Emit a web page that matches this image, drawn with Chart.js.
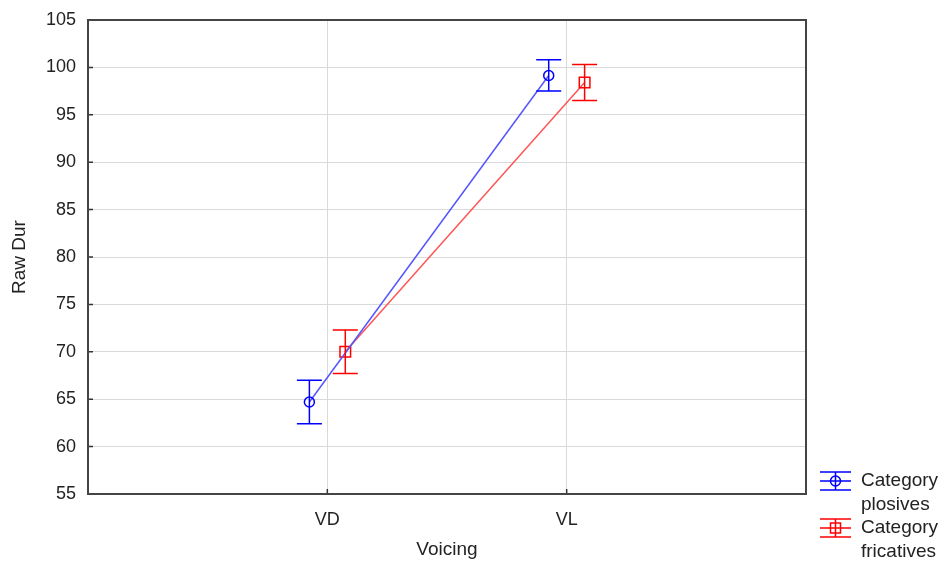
<!DOCTYPE html>
<html>
<head>
<meta charset="utf-8">
<script src="https://cdn.jsdelivr.net/npm/chart.js@4"></script>
<style>
  html, body { margin: 0; padding: 0; background: #fff; }
  #wrap { width: 947px; height: 563px; position: relative; }
</style>
</head>
<body>
<div id="wrap"><canvas id="c"></canvas></div>
<script>
/* RawDur by Voicing, plosives vs fricatives, with error bars */

const categories     = ['VD', 'VL'];
const catPos         = [1, 2];
const plosivesMean   = [64.7, 99.15];
const plosivesErr    = [2.3, 1.65];
const fricativesMean = [70.0, 98.4];
const fricativesErr  = [2.3, 1.9];
const yTicks         = [55, 60, 65, 70, 75, 80, 85, 90, 95, 100, 105];
const offset         = 0.075;

const BLUE = '#0000ff';
const RED  = '#ff0000';
const FONT = '"Liberation Sans", Arial, sans-serif';

function pts(means, shift) {
  return means.map((m, i) => ({ x: catPos[i] + shift, y: m }));
}

// error bars + inward tick marks + legend
const extras = {
  id: 'extras',
  afterDatasetsDraw(chart) {
    const ctx = chart.ctx;
    const xs = chart.scales.x, ys = chart.scales.y;
    chart.data.datasets.forEach(ds => {
      ctx.save();
      ctx.strokeStyle = ds.barColor;
      ctx.lineWidth = 1.5;
      ds.data.forEach((p, i) => {
        const px = xs.getPixelForValue(p.x);
        const top = ys.getPixelForValue(p.y + ds.errors[i]);
        const bot = ys.getPixelForValue(p.y - ds.errors[i]);
        ctx.beginPath();
        ctx.moveTo(px, top); ctx.lineTo(px, bot);
        ctx.moveTo(px - 12.5, top); ctx.lineTo(px + 12.5, top);
        ctx.moveTo(px - 12.5, bot); ctx.lineTo(px + 12.5, bot);
        ctx.stroke();
      });
      ctx.restore();
    });

    const a = chart.chartArea;
    ctx.save();
    ctx.strokeStyle = '#333';
    ctx.lineWidth = 1.5;
    ctx.beginPath();
    yTicks.forEach(v => {
      const y = ys.getPixelForValue(v);
      ctx.moveTo(a.left, y); ctx.lineTo(a.left + 5, y);
    });
    catPos.forEach(v => {
      const x = xs.getPixelForValue(v);
      ctx.moveTo(x, a.bottom); ctx.lineTo(x, a.bottom - 5);
    });
    ctx.stroke();
    ctx.strokeStyle = '#444';
    ctx.lineWidth = 2;
    ctx.strokeRect(a.left, a.top, a.right - a.left, a.bottom - a.top);
    ctx.restore();

    // legend
    const items = [
      { y: 481, color: BLUE, marker: 'circle', l1: 'Category', l2: 'plosives' },
      { y: 528, color: RED,  marker: 'square', l1: 'Category', l2: 'fricatives' }
    ];
    ctx.save();
    items.forEach(it => {
      ctx.strokeStyle = it.color;
      ctx.lineWidth = 1.5;
      ctx.beginPath();
      ctx.moveTo(820, it.y - 9); ctx.lineTo(851, it.y - 9);
      ctx.moveTo(820, it.y);     ctx.lineTo(851, it.y);
      ctx.moveTo(820, it.y + 9); ctx.lineTo(851, it.y + 9);
      ctx.moveTo(835.5, it.y - 9); ctx.lineTo(835.5, it.y + 9);
      ctx.stroke();
      ctx.beginPath();
      if (it.marker === 'circle') ctx.arc(835.5, it.y, 5, 0, Math.PI * 2);
      else ctx.rect(830.5, it.y - 5, 10, 10);
      ctx.stroke();
      ctx.fillStyle = '#222';
      ctx.font = '19px ' + FONT;
      ctx.textBaseline = 'middle';
      ctx.fillText(it.l1, 861, it.y);
      ctx.fillText(it.l2, 861, it.y + 23.5);
    });
    ctx.restore();
  }
};

new Chart(document.getElementById('c'), {
  type: 'line',
  data: {
    datasets: [
      {
        label: 'Category plosives',
        data: pts(plosivesMean, -offset),
        errors: plosivesErr,
        barColor: BLUE,
        borderColor: '#5555ff',
        borderWidth: 1.5,
        pointStyle: 'circle',
        pointRadius: 5,
        pointBorderColor: BLUE,
        pointBackgroundColor: 'rgba(0,0,0,0)',
        pointBorderWidth: 1.5
      },
      {
        label: 'Category fricatives',
        data: pts(fricativesMean, offset),
        errors: fricativesErr,
        barColor: RED,
        borderColor: '#ff5555',
        borderWidth: 1.5,
        pointStyle: 'rect',
        pointRadius: 7.5,
        pointBorderColor: RED,
        pointBackgroundColor: 'rgba(0,0,0,0)',
        pointBorderWidth: 1.5
      }
    ]
  },
  options: {
    responsive: true,
    maintainAspectRatio: false,
    animation: false,
    layout: { padding: { top: 20, right: 141, left: 0, bottom: 0 } },
    plugins: { legend: { display: false }, tooltip: { enabled: false } },
    scales: {
      x: {
        type: 'linear',
        min: 0, max: 3,
        afterBuildTicks: s => { s.ticks = [0, 1, 2, 3].map(v => ({ value: v })); },
        afterFit: s => { s.height = 69; s.paddingLeft = 0; s.paddingRight = 0; },
        ticks: {
          callback: v => (v === 1 || v === 2) ? categories[v - 1] : '',
          color: '#222',
          font: { family: FONT, size: 18 },
          padding: 15,
          maxRotation: 0
        },
        grid: { color: '#d9d9d9', lineWidth: 1, drawTicks: false },
        border: { display: false },
        title: {
          display: true, text: 'Voicing', color: '#222',
          font: { family: FONT, size: 19 },
          padding: { top: 8, bottom: 2 }
        }
      },
      y: {
        min: 55, max: 105,
        afterBuildTicks: s => { s.ticks = yTicks.map(v => ({ value: v })); },
        afterFit: s => { s.width = 88; s.paddingTop = 0; s.paddingBottom = 0; },
        ticks: {
          color: '#222',
          font: { family: FONT, size: 18 },
          padding: 12
        },
        grid: { color: '#d9d9d9', lineWidth: 1, drawTicks: false },
        border: { display: false },
        title: {
          display: true, text: 'Raw Dur', color: '#222',
          font: { family: FONT, size: 19 },
          padding: { top: 8, bottom: 0 }
        }
      }
    }
  },
  plugins: [extras]
});
</script>
</body>
</html>
